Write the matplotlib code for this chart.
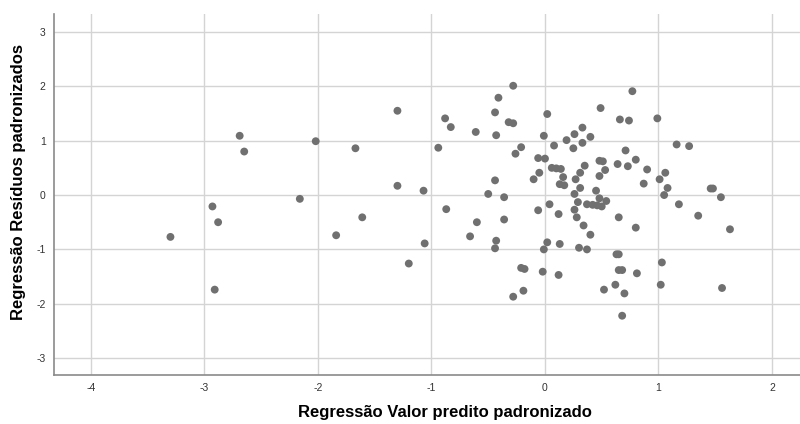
import matplotlib
matplotlib.use('Agg')
import matplotlib.pyplot as plt

# predicted standardized value (x) and standardized residual (y)
x_pred = [-3.30, -2.93, -2.88, -2.91, -2.69, -2.65, -2.02, -2.16, -1.67, -1.84,
          -1.61, -1.30, -1.30, -1.20, -1.07, -1.06, -0.94, -0.88, -0.83, -0.87,
          -0.66, -0.61, -0.60, -0.50, -0.44, -0.41, -0.43, -0.44, -0.43, -0.44,
          -0.36, -0.36, -0.32, -0.28, -0.28, -0.26, -0.28, -0.21, -0.21, -0.18,
          -0.19, -0.10, -0.06, -0.05, -0.06, -0.01, 0.00, -0.02, -0.01, 0.02,
          0.02, 0.04, 0.06, 0.08, 0.10, 0.12, 0.13, 0.13, 0.12, 0.14,
          0.16, 0.17, 0.19, 0.25, 0.26, 0.26, 0.26, 0.27, 0.28, 0.29,
          0.30, 0.31, 0.31, 0.33, 0.33, 0.34, 0.35, 0.37, 0.37, 0.40,
          0.40, 0.42, 0.45, 0.46, 0.48, 0.48, 0.48, 0.49, 0.50, 0.51,
          0.52, 0.53, 0.54, 0.63, 0.65, 0.62, 0.64, 0.65, 0.65, 0.68,
          0.66, 0.68, 0.70, 0.71, 0.73, 0.74, 0.77, 0.80, 0.80, 0.81,
          0.87, 0.90, 0.99, 1.01, 1.02, 1.03, 1.05, 1.06, 1.08, 1.16,
          1.18, 1.27, 1.35, 1.46, 1.48, 1.55, 1.56, 1.63]
y_resid = [-0.77, -0.21, -0.50, -1.74, 1.09, 0.80, 0.99, -0.07, 0.86, -0.74,
           -0.41, 1.55, 0.17, -1.26, 0.08, -0.89, 0.87, 1.41, 1.25, -0.26,
           -0.76, 1.16, -0.50, 0.02, 1.52, 1.79, 1.10, 0.27, -0.84, -0.98,
           -0.04, -0.45, 1.34, 1.32, 2.01, 0.76, -1.87, 0.88, -1.34, -1.36,
           -1.76, 0.29, 0.68, 0.41, -0.28, 1.09, 0.67, -1.41, -1.00, 1.49,
           -0.87, -0.17, 0.50, 0.91, 0.49, -0.35, 0.20, -0.90, -1.47, 0.48,
           0.33, 0.18, 1.01, 0.86, 1.12, 0.02, -0.27, 0.29, -0.41, -0.13,
           -0.97, 0.41, 0.13, 1.24, 0.96, -0.56, 0.54, -0.17, -1.00, 1.07,
           -0.73, -0.18, 0.08, -0.19, 0.63, 0.35, -0.06, 1.60, -0.21, 0.62,
           -1.74, 0.46, -0.11, -1.09, -1.09, -1.65, 0.57, -0.41, -1.38, -1.38,
           1.39, -2.22, -1.81, 0.82, 0.53, 1.37, 1.91, 0.65, -0.60, -1.44,
           0.21, 0.47, 1.41, 0.29, -1.65, -1.24, 0.00, 0.41, 0.13, 0.93,
           -0.17, 0.90, -0.38, 0.12, 0.12, -0.04, -1.71, -0.63]

x_ticks = [-4, -3, -2, -1, 0, 1, 2]
y_ticks = [-3, -2, -1, 0, 1, 2, 3]

plt.rcParams['font.family'] = ['Liberation Sans', 'DejaVu Sans']
plt.rcParams['axes.unicode_minus'] = False

fig = plt.figure(figsize=(8, 4.24), dpi=100)
ax = fig.add_axes([0.0675, 0.1156, 0.9325, 0.8514])

ax.scatter(x_pred, y_resid, s=32, color='#707070', edgecolors='none', zorder=3)

ax.set_xlim(-4.326, 2.247)
ax.set_ylim(-3.31, 3.33)
ax.set_xticks(x_ticks)
ax.set_yticks(y_ticks)
ax.grid(color='#d4d4d4', linewidth=1.0, zorder=0)
ax.tick_params(length=0, labelsize=7.5, colors='#333333', pad=6)

for side in ['top', 'right']:
    ax.spines[side].set_visible(False)
for side in ['left', 'bottom']:
    ax.spines[side].set_color('#8a8a8a')
    ax.spines[side].set_linewidth(1.2)

ax.set_xlabel('Regressão Valor predito padronizado', fontsize=12, fontweight='bold')
ax.set_ylabel('Regressão Resíduos padronizados', fontsize=12, fontweight='bold')
ax.xaxis.set_label_coords(0.524, -0.083)
ax.yaxis.set_label_coords(-0.038, 0.535)

fig.savefig('out.png', dpi=100)
